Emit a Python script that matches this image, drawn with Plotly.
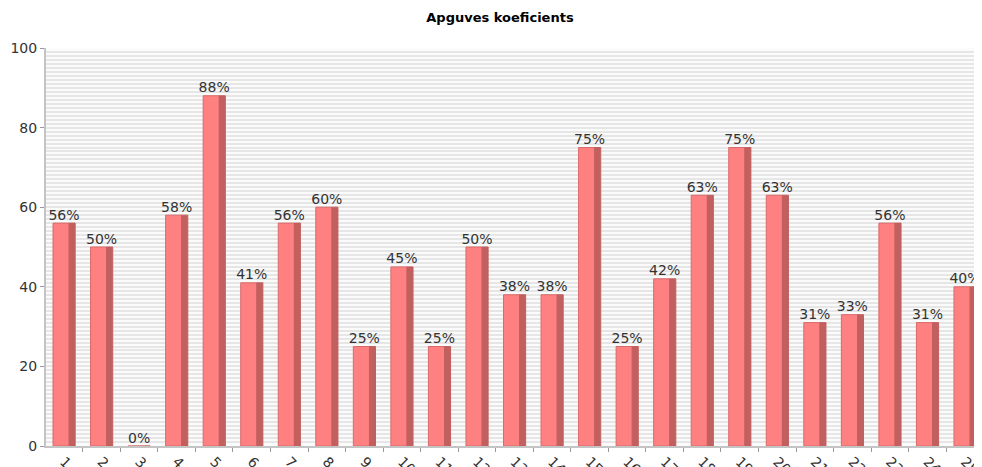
import plotly.graph_objects as go

# dados
categorias = [str(i) for i in range(1, 26)]
valores = [56, 50, 0, 58, 88, 41, 56, 60, 25, 45, 25, 50, 38, 38, 75,
           25, 42, 63, 75, 63, 31, 33, 56, 31, 40]
rotulos = [f"{v}%" for v in valores]

FACE = '#FF8080'
LADO = '#C25F5F'
CINZA_EIXO = '#C4C4C4'
TEXTO = '#333333'

fig = go.Figure()

# face da barra
fig.add_trace(go.Bar(x=categorias, y=valores, marker_color=FACE,
                     marker_line=dict(color='#D86A6A', width=1),
                     offset=-0.293, width=0.43, hoverinfo='skip'))
# lado escuro (efeito 3D)
fig.add_trace(go.Bar(x=categorias, y=valores, marker_color=LADO,
                     marker_line=dict(color=LADO, width=1), offset=0.137, width=0.16,
                     hoverinfo='skip'))
# rótulos em cima das barras
fig.add_trace(go.Scatter(x=categorias, y=valores, mode='text', text=rotulos,
                         textposition='top center', cliponaxis=False,
                         textfont=dict(size=14, color=TEXTO, family='DejaVu Sans')))

# a página tem 8px de margem no body -> margens compensadas
fig.update_layout(width=982, height=467, template='none', showlegend=False,
                  barmode='overlay',
                  margin=dict(l=38, r=7, t=40, b=29),
                  font=dict(family='DejaVu Sans', size=14, color=TEXTO),
                  paper_bgcolor='white', plot_bgcolor='#FBFBFB',
                  title=dict(text='<b>Apguves koeficients</b>', x=0.501, xanchor='center',
                             y=0.979, yanchor='middle',
                             font=dict(size=13, color='black', family='DejaVu Sans')))

fig.update_xaxes(type='category', range=[-0.48, 24.48], tickson='boundaries',
                 ticks='outside', ticklen=4, tickcolor='#9A9A9A', tickangle=45,
                 showline=True, linecolor=CINZA_EIXO, linewidth=2,
                 showgrid=False, zeroline=False, automargin=False,
                 tickfont=dict(size=14, color=TEXTO))

fig.update_yaxes(range=[0, 100], dtick=20, ticks='outside', ticklen=4,
                 tickcolor='#9A9A9A', showline=True, linecolor=CINZA_EIXO, linewidth=2,
                 showgrid=True, gridcolor='#E6E6E6', gridwidth=1.5, zeroline=False,
                 minor=dict(dtick=1, showgrid=True, gridcolor='#E6E6E6', gridwidth=1.5),
                 automargin=False, tickfont=dict(size=14, color=TEXTO))

fig.write_html("out.html")
